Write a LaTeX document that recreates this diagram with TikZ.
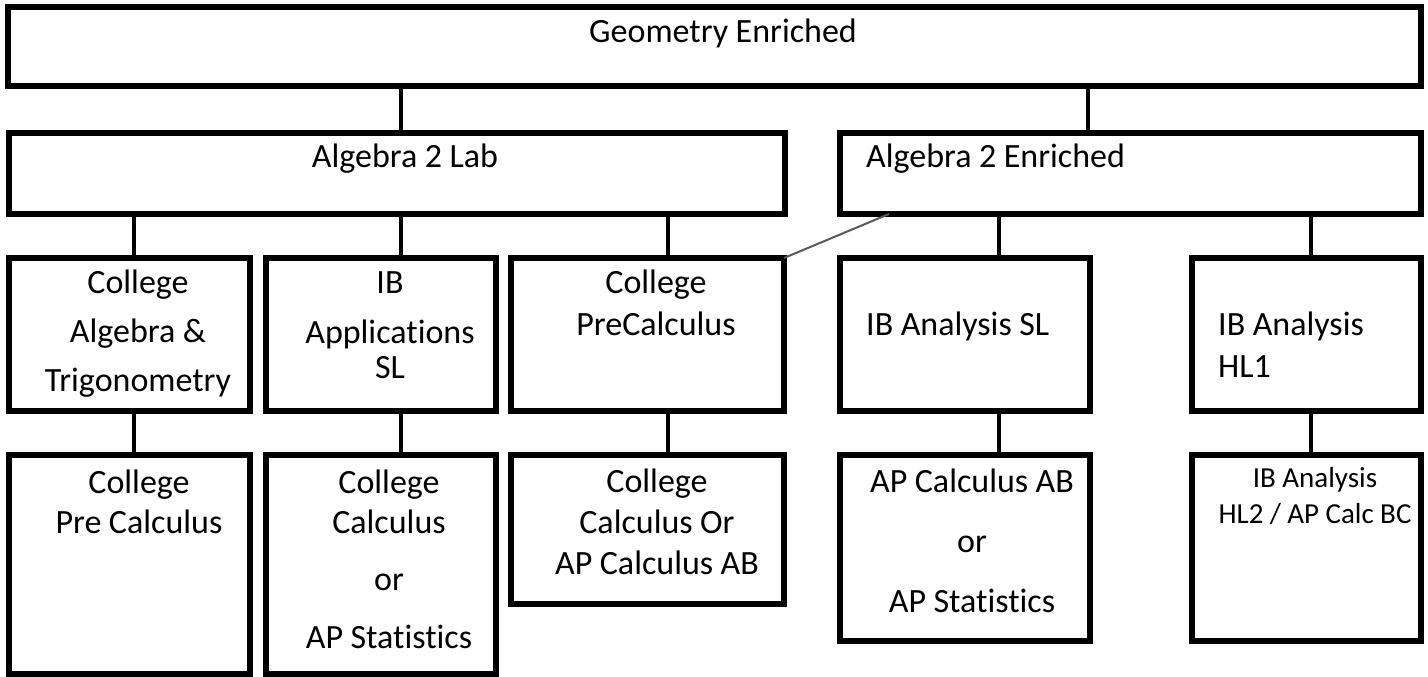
\documentclass[tikz,border=0pt]{standalone}
\usepackage{fontspec}
\setmainfont{Carlito}[Ligatures=NoCommon]
\usepackage{xcolor}
\usepackage{tikz}
\usetikzlibrary{positioning}

\newcommand\tightsp{\spaceskip=0.22em\relax}

\begin{document}
\begin{tikzpicture}[x=1pt, y=-1pt,
        box/.style={draw, line width=5.5pt, anchor=north west, inner sep=0pt, outer sep=0pt},
        txt/.style={text width=400pt, align=center, anchor=base, inner sep=0pt, font={\fontsize{34}{41}\selectfont}},
        txtl/.style={txt, align=left, anchor=base west},
        link/.style={line width=4.5pt}]
        \useasboundingbox (0,0) rectangle (1428,677);

        \node[box, minimum width=1413pt, minimum height=79pt] (geo) at (8,7) {};
        \node[box, minimum width=776pt, minimum height=81pt] (alab) at (9,133) {};
        \node[box, minimum width=581pt, minimum height=81pt] (aenr) at (840,133) {};

        \node[box, minimum width=241pt, minimum height=153pt] (c1) at (9,258) {};
        \node[box, minimum width=230pt, minimum height=153pt] (c2) at (266,258) {};
        \node[box, minimum width=273pt, minimum height=153pt] (c3) at (511,258) {};
        \node[box, minimum width=250pt, minimum height=153pt] (c4) at (840,258) {};
        \node[box, minimum width=229pt, minimum height=153pt] (c5) at (1192,258) {};

        \node[box, minimum width=241pt, minimum height=219pt] (d1) [below=44pt of c1] {};
        \node[box, minimum width=230pt, minimum height=219pt] (d2) [below=44pt of c2] {};
        \node[box, minimum width=273pt, minimum height=149pt] (d3) [below=44pt of c3] {};
        \node[box, minimum width=250pt, minimum height=186pt] (d4) [below=44pt of c4] {};
        \node[box, minimum width=229pt, minimum height=186pt] (d5) [below=44pt of c5] {};

        \node[txt] (tgeo) at (723,43) {\tightsp Geometry Enriched};
        \node[txt] (talab) at (405,167) {\tightsp Algebra 2 Lab};
        \node[txtl] (taenr) at (866,167) {\tightsp Algebra 2 Enriched};
        \node[txt] (tc1) at (138,293) {College\\[8pt]\tightsp Algebra \&\\[8pt]Trigonometry};
        \node[txt] (tc2) at (390,293) {IB\\[9pt]Applications\\[-6pt]SL};
        \node[txt] (tc3) at (656,293) {College\\[1pt]PreCalculus};
        \node[txtl] (tc4) at (866,335) {\tightsp IB Analysis SL};
        \node[txtl] (tc5) at (1218,335) {\tightsp IB Analysis\\[1pt]HL1};
        \node[txt] (td1) at (139,493) {\tightsp College\\[-1pt]Pre Calculus};
        \node[txt] (td2) at (389,493) {\tightsp College\\[-1pt]Calculus\\[16pt]or\\[17pt]AP Statistics};
        \node[txt] (td3) at (657,492) {\tightsp College\\Calculus Or\\AP Calculus AB};
        \node[txt] (td4) at (972,492) {\tightsp AP Calculus AB\\[19pt]or\\[19pt]AP Statistics};
        \node[txt, font={\fontsize{29}{36}\selectfont}] (td5) at (1315,487) {\tightsp IB Analysis\\HL2 / AP Calc BC};

        % connectors
        \draw[link] (geo.south -| 401,0) -- (alab.north -| 401,0);
        \draw[link] (geo.south -| 1088,0) -- (aenr.north -| 1088,0);
        \draw[link] (alab.south -| 134,0) -- (c1.north -| 134,0);
        \draw[link] (alab.south -| 401,0) -- (c2.north -| 401,0);
        \draw[link] (alab.south -| 668,0) -- (c3.north -| 668,0);
        \draw[link] (aenr.south -| 999,0) -- (c4.north -| 999,0);
        \draw[link] (aenr.south -| 1311,0) -- (c5.north -| 1311,0);
        \draw[link] (c1.south -| 134,0) -- (d1.north -| 134,0);
        \draw[link] (c2.south -| 401,0) -- (d2.north -| 401,0);
        \draw[link] (c3.south -| 668,0) -- (d3.north -| 668,0);
        \draw[link] (c4.south -| 999,0) -- (d4.north -| 999,0);
        \draw[link] (c5.south -| 1311,0) -- (d5.north -| 1311,0);
        \draw[line width=2pt, black!65] (aenr.south -| 889,0) -- (c3.north east);
\end{tikzpicture}
\end{document}
